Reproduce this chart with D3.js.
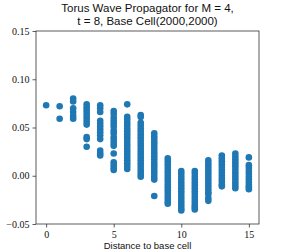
<!DOCTYPE html>
<html>
<head>
<meta charset="utf-8">
<script src="https://cdn.jsdelivr.net/npm/d3@7"></script>
<style>
  body { margin: 0; background: #fff; }
</style>
</head>
<body>
<div id="chart"></div>
<script>
// distance to base cell, one column of propagator values per distance
const distances = [0, 1, 2, 3, 4, 5, 6, 7, 8, 9, 10, 11, 12, 13, 14, 15];
const values = [
  [0.073],
  [0.072, 0.059],
  [0.080, 0.077, 0.070, 0.066, 0.062, 0.059],
  [0.074, 0.071, 0.068, 0.065, 0.062, 0.059, 0.056, 0.053, 0.040, 0.038, 0.030],
  [0.073, 0.070, 0.066, 0.057, 0.054, 0.051, 0.048, 0.045, 0.042, 0.038, 0.026, 0.023, 0.021],
  [0.067, 0.064, 0.060, 0.057, 0.054, 0.051, 0.047, 0.044, 0.040, 0.037, 0.034, 0.031, 0.023, 0.014, 0.011, 0.008, 0.006],
  [0.074, 0.061, 0.058, 0.055, 0.052, 0.049, 0.046, 0.043, 0.040, 0.037, 0.034, 0.031, 0.028, 0.025, 0.022, 0.019, 0.016, 0.013, 0.010, 0.007],
  [0.063, 0.061, 0.055, 0.052, 0.049, 0.046, 0.043, 0.040, 0.037, 0.034, 0.031, 0.028, 0.025, 0.022, 0.019, 0.016, 0.013, 0.010, 0.007, 0.004, 0.001, -0.001],
  [0.044, 0.041, 0.038, 0.035, 0.032, 0.029, 0.026, 0.023, 0.020, 0.017, 0.014, 0.011, 0.008, 0.005, 0.002, -0.001, -0.004, -0.021],
  [0.018, 0.015, 0.012, 0.009, 0.006, 0.003, 0.000, -0.003, -0.006, -0.009, -0.012, -0.015, -0.018, -0.021, -0.024, -0.027, -0.029],
  [0.005, 0.002, -0.001, -0.004, -0.007, -0.010, -0.013, -0.016, -0.019, -0.022, -0.025, -0.028, -0.031, -0.034, -0.036],
  [0.005, 0.002, -0.001, -0.004, -0.007, -0.010, -0.013, -0.016, -0.019, -0.022, -0.025, -0.028, -0.031, -0.033, -0.035],
  [0.016, 0.013, 0.010, 0.007, 0.004, 0.001, -0.002, -0.005, -0.008, -0.011, -0.014, -0.017, -0.019, -0.023, -0.026],
  [0.021, 0.018, 0.015, 0.012, 0.009, 0.006, 0.003, 0.000, -0.003, -0.006, -0.009, -0.011],
  [0.023, 0.020, 0.017, 0.014, 0.011, 0.008, 0.005, 0.002, -0.001, -0.004, -0.007, -0.010, -0.013],
  [0.019, 0.011, 0.008, 0.005, 0.002, -0.001, -0.004, -0.007, -0.010, -0.012, -0.014]
];
const xTicks = [0, 5, 10, 15];
const yTicks = [-0.05, 0.00, 0.05, 0.10, 0.15];
const titleLines = ['Torus Wave Propagator for M = 4,', 't = 8, Base Cell(2000,2000)'];
const xLabel = 'Distance to base cell';

const W = 288, H = 252;
const m = {top: 31, right: 29, bottom: 28, left: 36};

const svg = d3.select('#chart').append('svg')
  .attr('width', W).attr('height', H);

const x = d3.scaleLinear().domain([-0.75, 15.75]).range([m.left, W - m.right]);
const y = d3.scaleLinear().domain([-0.05, 0.15]).range([H - m.bottom, m.top]);

const points = [];
distances.forEach((d, i) => values[i].forEach(v => points.push({d: d, v: v})));

svg.append('g').attr('class', 'points')
  .selectAll('circle')
  .data(points)
  .join('circle')
  .attr('cx', p => x(p.d))
  .attr('cy', p => y(p.v))
  .attr('r', 3.3)
  .attr('fill', '#1f77b4');

// axes
const xAxis = svg.append('g')
  .attr('transform', 'translate(0,' + (H - m.bottom) + ')')
  .call(d3.axisBottom(x).tickValues(xTicks).tickSize(3.5).tickPadding(3).tickFormat(d3.format('d')));
const yAxis = svg.append('g')
  .attr('transform', 'translate(' + m.left + ',0)')
  .call(d3.axisLeft(y).tickValues(yTicks).tickSize(3.5).tickPadding(3)
    .tickFormat(d => d3.format('.2f')(d).replace('-', '\u2212')));

[xAxis, yAxis].forEach(a => {
  a.select('.domain').remove();
  a.selectAll('line').attr('stroke', '#333').attr('stroke-width', 0.8);
  a.selectAll('text')
    .style('font-family', '"Liberation Serif", "DejaVu Serif", serif')
    .style('font-size', '10px')
    .attr('fill', '#111');
});

// frame
svg.append('rect')
  .attr('x', m.left).attr('y', m.top)
  .attr('width', W - m.left - m.right)
  .attr('height', H - m.top - m.bottom)
  .attr('fill', 'none')
  .attr('stroke', '#333')
  .attr('stroke-width', 0.8);

svg.append('g').selectAll('text')
  .data(titleLines)
  .join('text')
  .attr('x', (m.left + W - m.right) / 2)
  .attr('y', (d, i) => 12 + i * 13)
  .attr('text-anchor', 'middle')
  .style('font-family', '"Liberation Sans", Arial, sans-serif')
  .style('font-size', '11.5px')
  .attr('fill', '#111')
  .text(d => d);

svg.append('text')
  .attr('x', (m.left + W - m.right) / 2)
  .attr('y', 249)
  .attr('text-anchor', 'middle')
  .style('font-family', '"Liberation Sans", Arial, sans-serif')
  .style('font-size', '9.5px')
  .attr('fill', '#111')
  .text(xLabel);
</script>
</body>
</html>
